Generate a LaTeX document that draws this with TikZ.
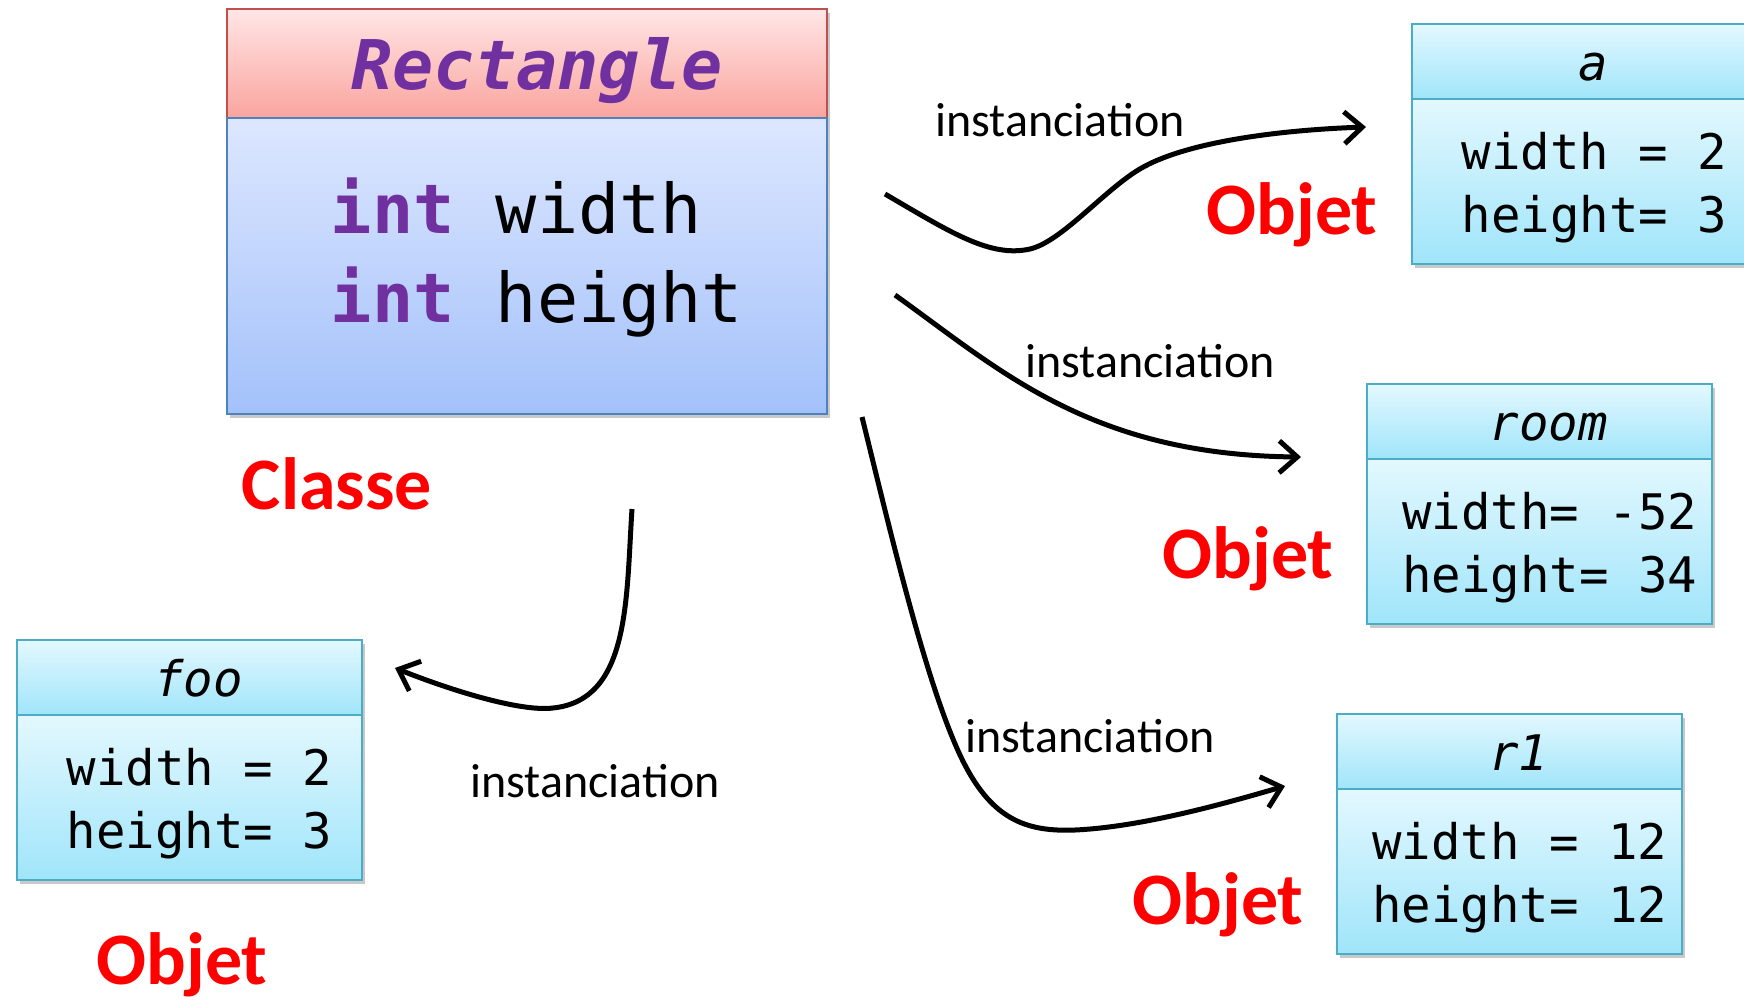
\documentclass[tikz,border=0pt]{standalone}
\usepackage{fontspec}
\setmainfont{Carlito}
\setmonofont{DejaVu Sans Mono}
\usetikzlibrary{arrows.meta,shadows,positioning}

\definecolor{clsline}{HTML}{C0504D}
\definecolor{clstop}{HTML}{FFE6E6}
\definecolor{clsbot}{HTML}{FAA49E}
\definecolor{bodyline}{HTML}{4F81BD}
\definecolor{bodytop}{HTML}{DDE7FF}
\definecolor{bodybot}{HTML}{A3C1FA}
\definecolor{objline}{HTML}{4BACC6}
\definecolor{objtop}{HTML}{E3F8FE}
\definecolor{objbot}{HTML}{A0E5FA}
\definecolor{kwpurple}{HTML}{7030A0}
\definecolor{objred}{HTML}{FF0000}

\tikzset{
	boxshadow/.style={drop shadow={shadow xshift=3pt, shadow yshift=-4pt, opacity=0.3, fill=black!70}},
	clshead/.style={draw=clsline, line width=2pt, top color=clstop, bottom color=clsbot, minimum width=600pt, minimum height=109pt, inner sep=0pt, outer sep=0pt, text height=60pt, text depth=9pt, boxshadow, text=kwpurple, execute at begin node={\hspace*{20pt}}, font=\fontsize{68.5}{89}\selectfont\ttfamily\bfseries\itshape},
	clsbody/.style={draw=bodyline, line width=2pt, top color=bodytop, bottom color=bodybot, minimum width=600pt, minimum height=296pt, inner sep=0pt, outer sep=0pt, text height=139pt, text depth=27pt, boxshadow, align=left, font=\fontsize{68.5}{89}\selectfont\ttfamily},
	objhead/.style={draw=objline, line width=2pt, top color=objtop, bottom color=objbot, minimum width=345pt, minimum height=75pt, inner sep=0pt, outer sep=0pt, text height=46pt, text depth=8pt, boxshadow, execute at begin node={\hspace*{18pt}}, font=\fontsize{49}{63}\selectfont\ttfamily\itshape},
	objbody/.style={draw=objline, line width=2pt, top color=objtop, bottom color=objbot, minimum width=345pt, minimum height=165pt, inner sep=0pt, outer sep=0pt, text height=109pt, text depth=7pt, boxshadow, align=left, font=\fontsize{49}{63}\selectfont\ttfamily},
	objet/.style={text=objred, font=\fontsize{74}{80}\selectfont\bfseries},
	inst/.style={font=\fontsize{48}{50}\selectfont},
	conn/.style={line width=5pt, -{Straight Barb[length=18pt,width=32pt]}}
}

\newcommand{\kw}[1]{{\bfseries\color{kwpurple}#1}}
\newcommand{\vals}[2]{\hspace*{20pt}#1\\\hspace*{20pt}#2}

\begin{document}
\begin{tikzpicture}[x=1pt,y=-1pt]
	\useasboundingbox (0,0) rectangle (1744,1001);

	\node[clshead, anchor=north west] (clsHead) at (227,9) {Rectangle};
	\node[clsbody, below=0pt of clsHead] (clsBody) {\vals{\kw{int} width}{\kw{int} height}};
	\node[objet] (clsLabel) at (337,484) {Classe};

	\node[objhead, anchor=north west] (aHead) at (1412,24) {a};
	\node[objbody, below=0pt of aHead] (aBody) {\vals{width = 2}{height= 3}};
	\node[objet] (aLabel) at (1292,215) {Objet};

	\node[objhead, anchor=north west] (roomHead) at (1367,384) {room};
	\node[objbody, below=0pt of roomHead] (roomBody) {\vals{width= -52}{height= 34}};
	\node[objet] (roomLabel) at (1248,559) {Objet};

	\node[objhead, anchor=north west] (rOneHead) at (1337,714) {r1};
	\node[objbody, below=0pt of rOneHead] (rOneBody) {\vals{width = 12}{height= 12}};
	\node[objet] (rOneLabel) at (1218,905) {Objet};

	\node[objhead, anchor=north west] (fooHead) at (17,640) {foo};
	\node[objbody, below=0pt of fooHead] (fooBody) {\vals{width = 2}{height= 3}};
	\node[objet] (fooLabel) at (182,965) {Objet};

	\node[inst] (instA) at (1060,120) {instanciation};
	\node[inst] (instRoom) at (1150,361) {instanciation};
	\node[inst] (instROne) at (1090,736) {instanciation};
	\node[inst] (instFoo) at (595,781) {instanciation};

	\coordinate (fromA) at (885,194);
	\coordinate (toA) at (1366,127);
	\coordinate (fromRoom) at (895,295);
	\coordinate (toRoom) at (1301,457);
	\coordinate (fromROne) at (862,417);
	\coordinate (toROne) at (1285,786);
	\coordinate (fromFoo) at (632,509);
	\coordinate (toFoo) at (395,668);

	\draw[conn] (fromA) .. controls (950,232) and (990,258) .. (1030,249) .. controls (1060,242) and (1100,195) .. (1135,172) .. controls (1180,142) and (1280,130) .. (toA);
	\draw[conn] (fromRoom) .. controls (1000,370) and (1090,455) .. (toRoom);
	\draw[conn] (fromROne) .. controls (890,530) and (925,680) .. (960,755) .. controls (990,819) and (1025,832) .. (1075,830) .. controls (1140,827) and (1220,805) .. (toROne);
	\draw[conn] (fromFoo) .. controls (626,600) and (630,700) .. (553,708) .. controls (520,712) and (450,690) .. (toFoo);
\end{tikzpicture}
\end{document}
